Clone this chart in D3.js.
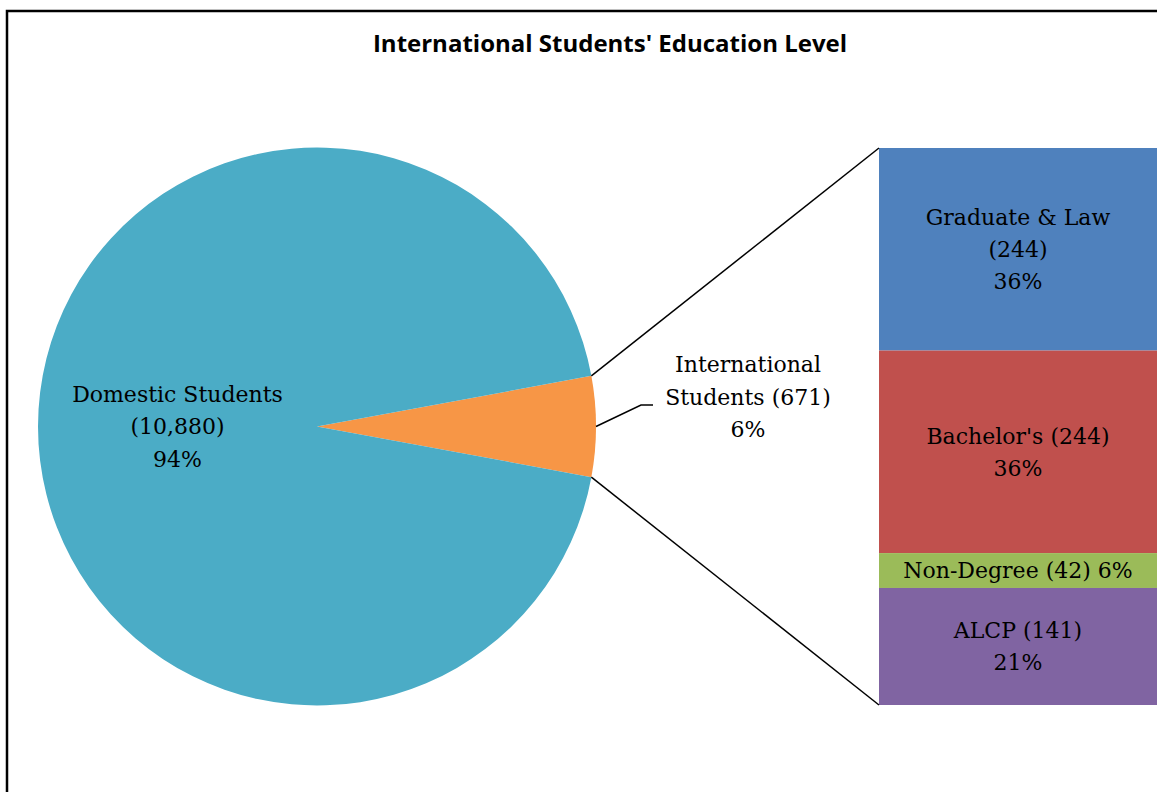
<!DOCTYPE html>
<html><head><meta charset="utf-8">
<script src="https://cdn.jsdelivr.net/npm/d3@7"></script>
<style>html,body{margin:0;padding:0;background:#fff;overflow:hidden}</style>
</head><body>
<script>
const pieCategories = ["International Students", "Domestic Students"];
const pieValues = [671, 10880];
const piePercents = ["6%", "94%"];
const barCategories = ["Graduate & Law", "Bachelor's", "Non-Degree", "ALCP"];
const barValues = [244, 244, 42, 141];
const barPercents = ["36%", "36%", "6%", "21%"];
const pieColors = ["#F79646", "#4BACC6"];
const barColors = ["#4F81BD", "#C0504D", "#9BBB59", "#8064A2"];
const title = "International Students' Education Level";

const W = 1157, H = 792;
const svg = d3.select("body").append("svg").attr("width", W).attr("height", H);
svg.append("rect").attr("x", 7).attr("y", 11).attr("width", W + 20).attr("height", H + 20)
  .attr("fill", "#fff").attr("stroke", "#000").attr("stroke-width", 2.5);

svg.append("text").attr("x", 610).attr("y", 52).attr("text-anchor", "middle")
  .attr("font-family", "'Open Sans', sans-serif").attr("font-weight", "bold").attr("font-size", 24)
  .text(title);

const cx = 317, cy = 426.5, R = 279;
const total = d3.sum(pieValues);
const a = 2 * Math.PI * pieValues[0] / total;
const pie = d3.pie().sort(null).startAngle(Math.PI / 2 - a / 2).endAngle(Math.PI / 2 - a / 2 + 2 * Math.PI);
const arcs = pie(pieValues);
const arc = d3.arc().innerRadius(0).outerRadius(R);
const g = svg.append("g").attr("transform", `translate(${cx},${cy})`);
g.selectAll("path").data(arcs).join("path").attr("d", arc).attr("fill", (d, i) => pieColors[i]);

// bar
const barX = 879, barW = 278;
const y = d3.scaleLinear().domain([0, d3.sum(barValues)]).range([148, 705]);
const cum = barValues.map((v, i) => d3.sum(barValues.slice(0, i)));
svg.selectAll("rect.bar").data(barValues).join("rect").attr("class", "bar")
  .attr("x", barX).attr("width", barW)
  .attr("y", (d, i) => y(cum[i])).attr("height", d => y(d) - y(0))
  .attr("fill", (d, i) => barColors[i]);

// connectors
const ia = arcs[0];
const pt = ang => [cx + R * Math.sin(ang), cy - R * Math.cos(ang)];
const p1 = pt(ia.startAngle), p2 = pt(ia.endAngle);
svg.append("line").attr("x1", p1[0]).attr("y1", p1[1]).attr("x2", barX).attr("y2", y(0))
  .attr("stroke", "#000").attr("stroke-width", 1.5);
svg.append("line").attr("x1", p2[0]).attr("y1", p2[1]).attr("x2", barX).attr("y2", y(d3.sum(barValues)))
  .attr("stroke", "#000").attr("stroke-width", 1.5);

const font = "'DejaVu Serif', serif";
const fs = 22;
function label(x, yc, lines, lh) {
  const t = svg.append("text").attr("text-anchor", "middle").attr("font-family", font)
    .attr("font-size", fs).attr("fill", "#000");
  const n = lines.length;
  lines.forEach((l, i) => {
    t.append("tspan").attr("x", x).attr("y", yc + (i - (n - 1) / 2) * lh + fs * 0.35).text(l);
  });
}
// domestic label
const dc = d3.arc().innerRadius(0).outerRadius(R).centroid(arcs[1]);
label(cx + dc[0], cy + dc[1], ["Domestic Students", "(" + d3.format(",")(pieValues[1]) + ")", piePercents[1]], 32.5);
// international label with leader
const mid = (ia.startAngle + ia.endAngle) / 2;
const pm = pt(mid);
svg.append("polyline").attr("points", [[pm[0], pm[1]], [641, 405], [653, 405]].map(p => p.join(",")).join(" "))
  .attr("fill", "none").attr("stroke", "#000").attr("stroke-width", 1.5);
label(748, 397, ["International", "Students (" + pieValues[0] + ")", piePercents[0]], 32.5);

// bar labels
const bx = barX + barW / 2;
barValues.forEach((v, i) => {
  const yc = (y(cum[i]) + y(cum[i] + v)) / 2;
  let lines;
  if (i === 0) lines = [barCategories[i], "(" + v + ")", barPercents[i]];
  else if (i === 1) lines = [barCategories[i] + " (" + v + ")", barPercents[i]];
  else if (i === 2) lines = [barCategories[i] + " (" + v + ") " + barPercents[i]];
  else lines = [barCategories[i] + " (" + v + ")", barPercents[i]];
  label(bx, yc, lines, 32);
});
</script>
</body></html>
